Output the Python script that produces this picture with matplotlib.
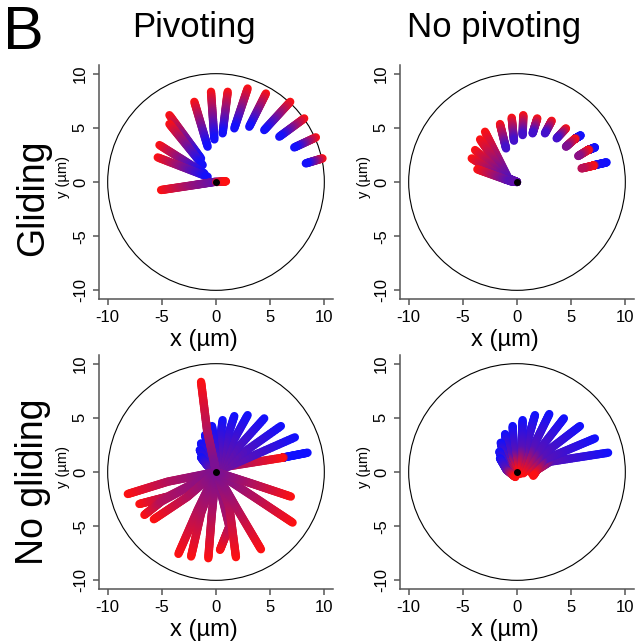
import matplotlib
matplotlib.use("Agg")
import matplotlib.pyplot as plt
import numpy as np
from matplotlib.collections import LineCollection
from matplotlib.colors import LinearSegmentedColormap
from matplotlib.patches import Circle

plt.rcParams["font.family"] = ["Liberation Sans", "DejaVu Sans"]

# shade 0 = blue, 1 = red
RADIUS = 10
ANCHOR = (0.0, 0.0)
TICKS = [-10, -5, 0, 5, 10]
COL_TITLES = ["Pivoting", "No pivoting"]
ROW_TITLES = ["Gliding", "No gliding"]

# gliding + pivoting
gp_x = [[-2.0, -0.77], [-0.46, -0.15], [1.08, 0.61], [2.92, 1.69], [4.61, 3.07],
        [6.85, 4.45], [8.14, 5.84], [9.22, 7.22], [9.83, 8.29],
        [-4.3, -1.38], [-4.3, -1.23], [-5.22, -1.08], [-5.38, -0.77],
        [-5.07, -2.0, 0.0], [0.0, 0.92]]
gp_y = [[7.4, 3.26], [8.33, 3.93], [8.33, 4.49], [8.63, 4.95], [8.17, 5.1],
        [7.4, 4.79], [5.87, 4.18], [4.12, 3.19], [2.18, 1.72],
        [6.17, 2.18], [5.35, 1.57], [3.41, 0.8], [2.27, 0.49],
        [-0.74, -0.28, 0.03], [0.0, 0.06]]
gp_c = [[1, 0]] * 13 + [[1, 0.55, 0.35], [0.7, 1]]

# gliding, no pivoting
gn_x = [[-2.95, -0.8, 0.0], [-3.41, -0.95, 0.0], [-3.87, -1.0, 0.0],
        [-4.18, -1.1, 0.0], [-3.66, -0.65, 0.0],
        [-1.57, -1.01], [-0.49, -0.28], [0.58, 0.52], [1.87, 1.44], [3.2, 2.58],
        [4.52, 3.66],
        [5.87, 5.45, 5.3, 4.52], [7.19, 6.7, 6.55, 5.65], [8.27, 7.2, 7.0, 5.96]]
gn_y = [[4.64, 0.34, 0.0], [3.93, 0.34, 0.0], [2.95, 0.3, 0.0],
        [2.18, 0.25, 0.0], [1.17, 0.09, 0.0],
        [5.35, 3.1], [5.93, 3.81], [6.17, 4.33], [5.87, 4.49], [5.65, 4.49],
        [4.95, 4.03],
        [4.3, 4.05, 3.95, 3.26], [3.19, 3.0, 2.95, 2.4], [1.81, 1.57, 1.5, 1.26]]
gn_c = ([[1, 0.3, 0.35]] * 5 + [[1, 0.2]] * 6
        + [[0, 0.05, 1, 0.45], [0, 0.05, 1, 0.5], [0, 0.05, 1, 0.7]])

# no gliding, pivoting
np_x = [[8.45, 6.3, 6.1, 0.92, 0.0], [7.28, 0.0], [5.99, 0.0], [4.45, 0.0],
        [2.92, 0.0], [1.69, 0.0], [0.61, 0.0], [-0.37, -0.1, 0.0],
        [-1.01, -0.5, 0.0], [-1.38, -0.8, 0.0], [-1.5, -0.9, 0.0], [-1.38, -0.8, 0.0],
        [-1.38, -0.83, -0.15, 0.0],
        [-8.14, -4.45, 0.0], [-7.07, -4.45, 0.0], [-6.61, -5.07, 0.0],
        [-5.74, -2.61, 0.0], [-3.47, -1.69, 0.0], [-2.3, -1.38, 0.0],
        [-0.71, -0.4, 0.0], [0.37, 1.23, 0.0], [1.84, 1.23, 0.0],
        [4.15, 2.0, 0.0], [7.07, 3.5, 0.0], [6.91, 3.4, 0.0]]
np_y = [[1.78, 1.36, 1.31, 0.49, 0.0], [3.2, 0.0], [4.24, 0.0], [4.95, 0.0],
        [5.25, 0.0], [5.16, 0.0], [4.79, 0.0], [4.24, 2.0, 0.0],
        [3.41, 1.6, 0.0], [2.64, 1.2, 0.0], [2.03, 0.9, 0.0], [1.35, 0.6, 0.0],
        [8.32, 3.87, 0.8, 0.0],
        [-2.03, -0.89, 0.0], [-2.95, -2.27, 0.0], [-3.96, -2.74, 0.0],
        [-4.36, -2.27, 0.0], [-7.56, -3.5, 0.0], [-7.8, -3.8, 0.0],
        [-7.96, -4.0, 0.0], [-7.19, -5.04, 0.0], [-7.86, -3.2, 0.0],
        [-7.13, -3.5, 0.0], [-4.67, -2.3, 0.0], [-2.27, -1.1, 0.0]]
np_c = ([[0, 0, 1, 0.6, 0.45]] + [[0, 0.45]] * 6 + [[0, 0.2, 0.45]] * 5
        + [[1, 0.7, 0.45, 0.45]] + [[1, 0.7, 0.45]] * 12)

# no gliding, no pivoting
nn_x = [[8.41, 3.04, 1.35], [7.19, 2.43, 1.5], [5.81, 2.12, 0.58], [4.33, 1.81, 0.28],
        [2.98, 1.35, 0.12], [1.66, 0.74, 0.0], [0.52, 0.43, -0.15], [-0.4, -0.28, -0.31],
        [-1.1, -0.8, -0.46], [-1.5, -1.1, -0.46], [-1.63, -1.1, -0.31], [-1.57, -0.95, -0.15]]
nn_y = [[1.78, 0.95, -0.12], [3.1, 1.1, -0.35], [4.24, 1.41, -0.12], [4.95, 1.72, -0.18],
        [5.35, 2.03, -0.06], [5.25, 2.03, -0.12], [4.79, 2.03, 0.03], [4.24, 1.72, 0.03],
        [3.5, 1.41, -0.06], [2.7, 1.1, -0.18], [1.87, 0.65, -0.35], [1.26, 0.18, -0.46]]
nn_c = [[0, 0.3, 1]] * 12

panels = [[(gp_x, gp_y, gp_c), (gn_x, gn_y, gn_c)],
          [(np_x, np_y, np_c), (nn_x, nn_y, nn_c)]]

cmap = LinearSegmentedColormap.from_list("blue_red", ["#1010ff", "#ff1010"])


def draw_strokes(ax, xs, ys, cs):
    """Draw each track as a thick line shaded from blue to red."""
    for x, y, c in zip(xs, ys, cs):
        segs, shade = [], []
        for i in range(len(x) - 1):
            t = np.linspace(0, 1, 25)
            px = x[i] + (x[i + 1] - x[i]) * t
            py = y[i] + (y[i + 1] - y[i]) * t
            pc = c[i] + (c[i + 1] - c[i]) * t
            for k in range(len(t) - 1):
                segs.append([(px[k], py[k]), (px[k + 1], py[k + 1])])
                shade.append(0.5 * (pc[k] + pc[k + 1]))
        lc = LineCollection(segs, colors=cmap(np.array(shade)), linewidths=6,
                            capstyle="round", joinstyle="round")
        ax.add_collection(lc)


W, H = 640, 642
fig = plt.figure(figsize=(W / 100, H / 100), dpi=100)

lefts = [99, 400]
tops = [65, 355]
size = 234
axis_grey = "#555555"

for r in range(2):
    for c in range(2):
        ax = fig.add_axes([lefts[c] / W, 1 - (tops[r] + size) / H, size / W, size / H])
        ax.set_xlim(-10.8, 10.8)
        ax.set_ylim(-10.8, 10.8)
        for s in ["top", "right"]:
            ax.spines[s].set_visible(False)
        for s in ["left", "bottom"]:
            ax.spines[s].set_color(axis_grey)
            ax.spines[s].set_linewidth(1.1)
        ax.set_xticks(TICKS)
        ax.set_yticks(TICKS)
        ax.set_xticklabels([str(t) for t in TICKS])
        ax.set_yticklabels([str(t) for t in TICKS], rotation=90, va="center")
        ax.tick_params(direction="out", length=4, width=1.1, color=axis_grey,
                       labelsize=12, pad=4)

        ax.add_patch(Circle(ANCHOR, RADIUS, fill=False, color="black", lw=0.8))
        xs, ys, cs = panels[r][c]
        draw_strokes(ax, xs, ys, cs)
        ax.plot([ANCHOR[0]], [ANCHOR[1]], "o", color="black", ms=4, zorder=5)

        cx = lefts[c] + size / 2 - 12
        fig.text(cx / W, 1 - (tops[r] + 275) / H, "x (µm)", fontsize=17,
                 ha="center", va="center")
        fig.text((lefts[c] - 36) / W, 1 - (tops[r] + 112) / H, "y (µm)", fontsize=10.5,
                 ha="center", va="center", rotation=90)

# column and row headings
fig.text(194 / W, 1 - 37 / H, COL_TITLES[0], fontsize=25, ha="center", va="baseline")
fig.text(494 / W, 1 - 37 / H, COL_TITLES[1], fontsize=25, ha="center", va="baseline")
fig.text(33 / W, 1 - 198 / H, ROW_TITLES[0], fontsize=27, ha="center", va="center",
         rotation=90)
fig.text(33 / W, 1 - 482 / H, ROW_TITLES[1], fontsize=27, ha="center", va="center",
         rotation=90)
fig.text(3 / W, 1 - 49 / H, "B", fontsize=44, ha="left", va="baseline")

fig.savefig("out.png", dpi=100, facecolor="white")
